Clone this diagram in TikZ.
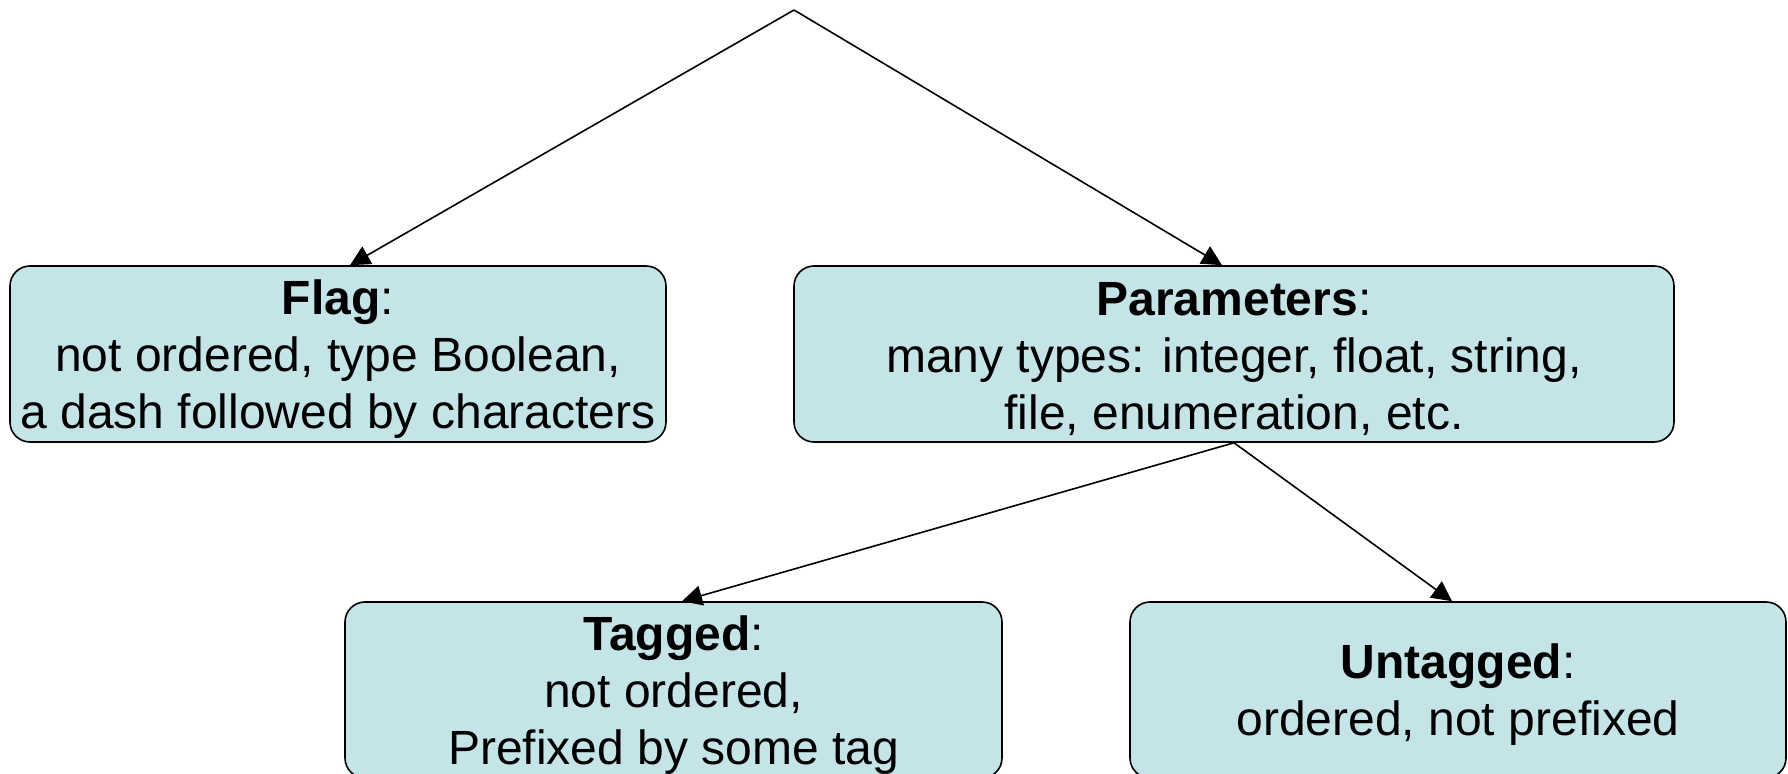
\documentclass[tikz,border=0pt]{standalone}
\usepackage{fontspec}
\setmainfont{Liberation Sans}
\usetikzlibrary{arrows.meta}
\definecolor{boxfill}{RGB}{197,228,231}
% invisible strut that gives the first line a little more room above
\newcommand\firstline{\rule{0pt}{22pt}}
\tikzset{
  infobox/.style={draw=black, line width=0.8pt, fill=boxfill, rounded corners=10pt,
    minimum height=88pt, inner sep=0pt, align=center,
    font=\fontsize{24}{28.5}\selectfont},
  link/.style={line width=0.8pt, -{Triangle[length=10pt,width=10pt]}}
}
\begin{document}
\begin{tikzpicture}[x=0.5pt,y=-0.5pt]
  \useasboundingbox (0,0) rectangle (1788,774);
  % categories of command-line options
  \node[infobox, minimum width=328pt] (flag) at (338,354)
    {\firstline\textbf{Flag}:\\not ordered, type Boolean,\\a dash followed by characters};
  \node[infobox, minimum width=440pt] (params) at (1234,354)
    {\firstline\textbf{Parameters}:\\many types: integer, float, string,\\file, enumeration, etc.};
  \node[infobox, minimum width=328.5pt] (tagged) at (673.5,690)
    {\firstline\textbf{Tagged}:\\not ordered,\\Prefixed by some tag};
  \node[infobox, minimum width=328pt] (untagged) at (1458,690)
    {\firstline\textbf{Untagged}:\\ordered, not prefixed};
  % top of the tree
  \coordinate (root) at (794,10);
  \draw[link] (root) -- ([xshift=6pt]flag.north);
  \draw[link] (root) -- ([xshift=-6pt]params.north);
  \draw[link] (params.south) -- ([xshift=4.25pt]tagged.north);
  \draw[link] (params.south) -- ([xshift=-3pt]untagged.north);
\end{tikzpicture}
\end{document}
